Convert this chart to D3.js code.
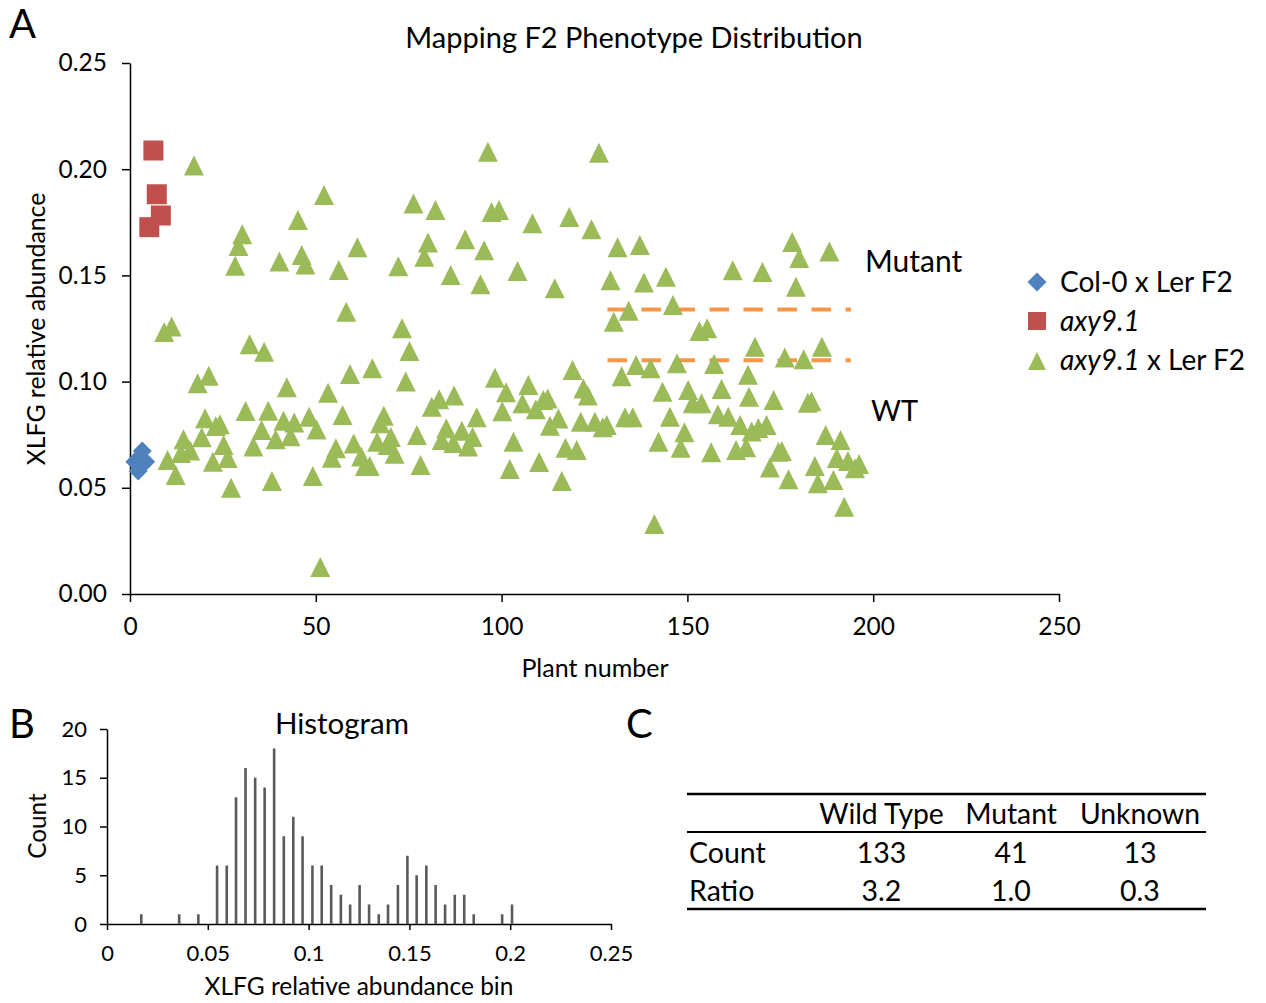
<!DOCTYPE html>
<html>
<head>
<meta charset="utf-8">
<script src="https://cdn.jsdelivr.net/npm/d3@7"></script>
<style>
  body { margin: 0; background: #fff; }
  text { font-family: Lato, "Noto Sans", sans-serif; fill: #000; }
</style>
</head>
<body>
<svg id="fig" width="1266" height="1003"></svg>
<script>
// ---- data ----
var colX = [1.3, 2.2, 3.0, 3.3, 4.2]
var colY = [0.0623, 0.0579, 0.0640, 0.0673, 0.0623]

var mutX = [5.2, 6.3, 7.2, 8.3]
var mutY = [0.1727, 0.2088, 0.1882, 0.1782]

var f2X = [17.2, 52.2, 45.2, 76.3, 82.2, 30.2, 29.2, 28.3, 40.2, 46.2, 47.2, 61.2, 56.2, 72.2, 80.2, 79.2,
  58.2, 11.2, 9.2, 73.2, 75.2, 32.2, 36.1,
  96.3, 126.2, 97.3, 99.3, 108.3, 118.2, 124.2, 131.2, 137.2, 90.2, 95.3, 86.3, 94.3, 104.3, 114.3,
  129.3, 138.3, 144.2, 162.2, 134.2, 130.2, 146.1, 153.2, 155.3, 136.2, 140.1, 147.2, 157.2,
  178.2, 180.1, 188.2, 170.2, 179.2, 168.2, 176.2, 181.3, 186.2,
  18.2, 21.2, 59.2, 65.2, 42.2, 53.3, 74.2, 81.2, 83.2, 31.1, 37.2, 20.2, 24.2, 23.1, 41.3, 44.2,
  48.2, 57.2, 68.3, 67.3, 35.4, 50.2, 33.2, 14.4, 19.3, 25.2, 16.2, 13.7, 39.2, 43.2, 10.1, 12.3,
  22.3, 26.3, 27.2, 38.2, 49.2, 51.2, 55.4, 54.3, 60.2, 62.2, 63.2, 64.5, 66.5, 70.2, 71.2, 69.3,
  77.2, 78.2,
  98.2, 119.1, 132.3, 166.3, 87.2, 101.2, 107.2, 105.6, 111.2, 112.4, 109.2, 100.2, 122.0, 123.2,
  93.3, 85.1, 89.3, 92.2, 83.9, 87.0, 91.0, 115.3, 113.0, 121.3, 125.1, 128.3, 127.2, 133.2, 135.3,
  103.2, 117.2, 120.2, 102.2, 110.1, 116.2, 141.1, 143.3, 150.2, 151.4, 153.8, 159.2, 166.6, 145.3,
  149.2, 142.2, 148.2, 158.2, 161.0, 164.2, 156.4, 163.1, 165.8,
  173.2, 182.4, 183.4, 167.3, 169.1, 171.3, 174.5, 175.4, 172.2, 177.2, 187.2, 191.2, 190.2, 193.2,
  196.2, 195.1, 184.3, 185.1, 189.3, 192.2]
var f2Y = [0.2018, 0.1879, 0.1761, 0.1839, 0.1808, 0.1694, 0.1638, 0.1546, 0.1565, 0.1596, 0.1551, 0.1632, 0.1525, 0.1543, 0.1655, 0.1588,
  0.1329, 0.1259, 0.1234, 0.1251, 0.1144, 0.1176, 0.1141,
  0.2082, 0.2078, 0.1798, 0.1808, 0.1745, 0.1775, 0.1717, 0.1632, 0.1643, 0.1670, 0.1618, 0.1502, 0.1458, 0.1521, 0.1439,
  0.1477, 0.1466, 0.1494, 0.1524, 0.1334, 0.1282, 0.1361, 0.1238, 0.1251, 0.1078, 0.1063, 0.1086, 0.1083,
  0.1657, 0.1582, 0.1613, 0.1516, 0.1447, 0.1164, 0.1114, 0.1105, 0.1164,
  0.0992, 0.1028, 0.1036, 0.1063, 0.0973, 0.0948, 0.1000, 0.0882, 0.0917, 0.0862, 0.0863, 0.0827, 0.0799, 0.0791, 0.0816, 0.0808,
  0.0835, 0.0843, 0.0839, 0.0804, 0.0772, 0.0775, 0.0695, 0.0728, 0.0738, 0.0702, 0.0676, 0.0664, 0.0729, 0.0743, 0.0631, 0.0560,
  0.0623, 0.0640, 0.0500, 0.0532, 0.0556, 0.0127, 0.0686, 0.0642, 0.0709, 0.0647, 0.0603, 0.0603, 0.0717, 0.0739, 0.0660, 0.0702,
  0.0749, 0.0607,
  0.1018, 0.1055, 0.1025, 0.1032, 0.0934, 0.0950, 0.0984, 0.0898, 0.0913, 0.0920, 0.0870, 0.0860, 0.0968, 0.0934,
  0.0832, 0.0780, 0.0769, 0.0739, 0.0725, 0.0711, 0.0694, 0.0826, 0.0792, 0.0811, 0.0811, 0.0796, 0.0785, 0.0832, 0.0832,
  0.0717, 0.0689, 0.0678, 0.0589, 0.0621, 0.0532, 0.0330, 0.0952, 0.0960, 0.0898, 0.0898, 0.0965, 0.0929, 0.0835,
  0.0761, 0.0717, 0.0689, 0.0846, 0.0835, 0.0796, 0.0667, 0.0678, 0.0691,
  0.0913, 0.0900, 0.0908, 0.0765, 0.0782, 0.0796, 0.0670, 0.0673, 0.0595, 0.0540, 0.0749, 0.0725, 0.0640, 0.0626,
  0.0612, 0.0592, 0.0603, 0.0521, 0.0537, 0.0411]

var cutoffs = [0.134, 0.110]
var cutoffSpan = [128.5, 194]

var histBins = [0.017, 0.0358, 0.0453, 0.0546, 0.0594, 0.064, 0.0687, 0.0735, 0.0782, 0.0829, 0.0877,
  0.0924, 0.097, 0.1019, 0.1065, 0.1112, 0.116, 0.1206, 0.1253, 0.130, 0.1348, 0.1394, 0.1443, 0.149,
  0.1536, 0.1584, 0.163, 0.1677, 0.1725, 0.1772, 0.1819, 0.196, 0.2009]
var histCounts = [1, 1, 1, 6, 6, 13, 16, 15, 14, 18, 9, 11, 9, 6, 6, 4, 3, 2, 4, 2, 1, 2, 4, 7, 5, 6, 4, 2, 3, 3, 1, 1, 2]

var tableCols = ['Wild Type', 'Mutant', 'Unknown']
var tableRows = ['Count', 'Ratio']
var countVals = ['133', '41', '13']
var ratioVals = ['3.2', '1.0', '0.3']

var scatterTicksY = [0, 0.05, 0.10, 0.15, 0.20, 0.25]
var scatterTicksX = [0, 50, 100, 150, 200, 250]
var histTicksX = [0, 0.05, 0.1, 0.15, 0.2, 0.25]
var histTicksY = [0, 5, 10, 15, 20]

// ---- colours ----
var blue = '#4f81bd', red = '#c0504d', green = '#9bbb59', orange = '#f79646'

var svg = d3.select('#fig')

// ================= panel A =================
var x = d3.scaleLinear().domain([0, 250]).range([130, 1059])
  , y = d3.scaleLinear().domain([0, 0.25]).range([594, 63])

var tri = 'M0,-10L10,10L-10,10Z'
var dia = 'M0,-9.5L9.5,0L0,9.5L-9.5,0Z'

function styleAxis(g, size) {
  g.select('.domain').attr('stroke', '#000').attr('stroke-width', 1.5)
  g.selectAll('.tick line').attr('stroke', '#000').attr('stroke-width', 1.5)
  g.selectAll('.tick text').attr('font-family', 'Lato, sans-serif').attr('font-size', size).attr('fill', '#000')
}

svg.append('g')
  .attr('transform', 'translate(130,0)')
  .call(d3.axisLeft(y).tickValues(scatterTicksY).tickFormat(d3.format('.2f')).tickSize(8).tickSizeOuter(0).tickPadding(15))
  .call(styleAxis, 24.5)

svg.append('g')
  .attr('transform', 'translate(0,594)')
  .call(d3.axisBottom(x).tickValues(scatterTicksX).tickFormat(d3.format('d')).tickSize(8).tickSizeOuter(0).tickPadding(16))
  .call(styleAxis, 24.5)

// cutoff lines
svg.selectAll('line.cut').data(cutoffs).enter().append('line')
  .attr('x1', x(cutoffSpan[0])).attr('x2', x(cutoffSpan[1]))
  .attr('y1', function (d) { return y(d) }).attr('y2', function (d) { return y(d) })
  .attr('stroke', orange).attr('stroke-width', 4).attr('stroke-dasharray', '19.5,14.5')

svg.selectAll('path.f2').data(d3.range(f2X.length)).enter().append('path')
  .attr('d', tri)
  .attr('transform', function (i) { return 'translate(' + x(f2X[i]) + ',' + y(f2Y[i]) + ')' })
  .attr('fill', green)

svg.selectAll('rect.mut').data(d3.range(mutX.length)).enter().append('rect')
  .attr('x', function (i) { return x(mutX[i]) - 10 }).attr('y', function (i) { return y(mutY[i]) - 10 })
  .attr('width', 20).attr('height', 20)
  .attr('fill', red)

svg.selectAll('path.col').data(d3.range(colX.length)).enter().append('path')
  .attr('d', dia)
  .attr('transform', function (i) { return 'translate(' + x(colX[i]) + ',' + y(colY[i]) + ')' })
  .attr('fill', blue)

svg.append('text').attr('x', 634).attr('y', 48).attr('text-anchor', 'middle').attr('font-size', 29)
  .text('Mapping F2 Phenotype Distribution')
svg.append('text').attr('x', 595).attr('y', 677).attr('text-anchor', 'middle').attr('font-size', 25)
  .text('Plant number')
svg.append('text').attr('transform', 'translate(45,329) rotate(-90)').attr('text-anchor', 'middle').attr('font-size', 24.8)
  .text('XLFG relative abundance')
svg.append('text').attr('x', 865).attr('y', 272).attr('font-size', 30).text('Mutant')
svg.append('text').attr('x', 871).attr('y', 421).attr('font-size', 29).text('WT')

// legend
var leg = svg.append('g').attr('transform', 'translate(1037,0)')
leg.append('path').attr('d', dia).attr('transform', 'translate(0,282)').attr('fill', blue)
leg.append('rect').attr('x', -9).attr('y', 312).attr('width', 18).attr('height', 18).attr('fill', red)
leg.append('path').attr('d', 'M0,-9L9,9L-9,9Z').attr('transform', 'translate(0,361)').attr('fill', green)
leg.append('text').attr('x', 23).attr('y', 292).attr('font-size', 28).text('Col-0 x Ler F2')
leg.append('text').attr('x', 23).attr('y', 331).attr('font-size', 28).attr('font-style', 'italic').text('axy9.1')
var l3 = leg.append('text').attr('x', 23).attr('y', 370).attr('font-size', 28)
l3.append('tspan').attr('font-style', 'italic').text('axy9.1')
l3.append('tspan').text(' x Ler F2')

// ================= panel B =================
var hx = d3.scaleLinear().domain([0, 0.25]).range([107, 611])
  , hy = d3.scaleLinear().domain([0, 20]).range([924, 729])

svg.append('g')
  .attr('transform', 'translate(107,0)')
  .call(d3.axisLeft(hy).tickValues(histTicksY).tickSize(7).tickSizeOuter(0).tickPadding(13))
  .call(styleAxis, 22)

svg.append('g')
  .attr('transform', 'translate(0,924)')
  .call(d3.axisBottom(hx).tickValues(histTicksX).tickFormat(function (d) { return d === 0 ? '0' : String(+d.toFixed(2)) })
    .tickSize(6).tickSizeOuter(0).tickPadding(15))
  .call(styleAxis, 22)

svg.selectAll('rect.bar').data(d3.range(histBins.length)).enter().append('rect')
  .attr('x', function (i) { return hx(histBins[i]) - 1.3 })
  .attr('y', function (i) { return hy(histCounts[i]) })
  .attr('width', 2.6)
  .attr('height', function (i) { return hy(0) - hy(histCounts[i]) })
  .attr('fill', '#5a5a5a')

svg.append('text').attr('x', 342).attr('y', 734).attr('text-anchor', 'middle').attr('font-size', 29.5).text('Histogram')
svg.append('text').attr('x', 359).attr('y', 995).attr('text-anchor', 'middle').attr('font-size', 24.5)
  .text('XLFG relative abundance bin')
svg.append('text').attr('transform', 'translate(46,826) rotate(-90)').attr('text-anchor', 'middle').attr('font-size', 24.3)
  .text('Count')

// ================= panel C =================
var colCx = [881.5, 1011, 1140]
var tbl = svg.append('g')
tbl.append('line').attr('x1', 687).attr('x2', 1206).attr('y1', 794).attr('y2', 794).attr('stroke', '#000').attr('stroke-width', 2.6)
tbl.append('line').attr('x1', 687).attr('x2', 1206).attr('y1', 832).attr('y2', 832).attr('stroke', '#000').attr('stroke-width', 2)
tbl.append('line').attr('x1', 687).attr('x2', 1206).attr('y1', 909).attr('y2', 909).attr('stroke', '#000').attr('stroke-width', 2.6)
tbl.selectAll('text.h').data(tableCols).enter().append('text')
  .attr('x', function (d, i) { return colCx[i] }).attr('y', 824).attr('text-anchor', 'middle').attr('font-size', 28.3)
  .text(function (d) { return d })
tbl.selectAll('text.r').data(tableRows).enter().append('text')
  .attr('x', 689).attr('y', function (d, i) { return 863 + i * 38 }).attr('font-size', 28.5)
  .text(function (d) { return d })
;[countVals, ratioVals].forEach(function (row, r) {
  tbl.selectAll('text.v' + r).data(row).enter().append('text')
    .attr('x', function (d, i) { return colCx[i] }).attr('y', 863 + r * 38).attr('text-anchor', 'middle').attr('font-size', 28.5)
    .text(function (d) { return d })
})

// panel letters
svg.append('text').attr('x', 9).attr('y', 38).attr('font-size', 40).text('A')
svg.append('text').attr('x', 9).attr('y', 738).attr('font-size', 40).text('B')
svg.append('text').attr('x', 626).attr('y', 738).attr('font-size', 40).text('C')
</script>
</body>
</html>
